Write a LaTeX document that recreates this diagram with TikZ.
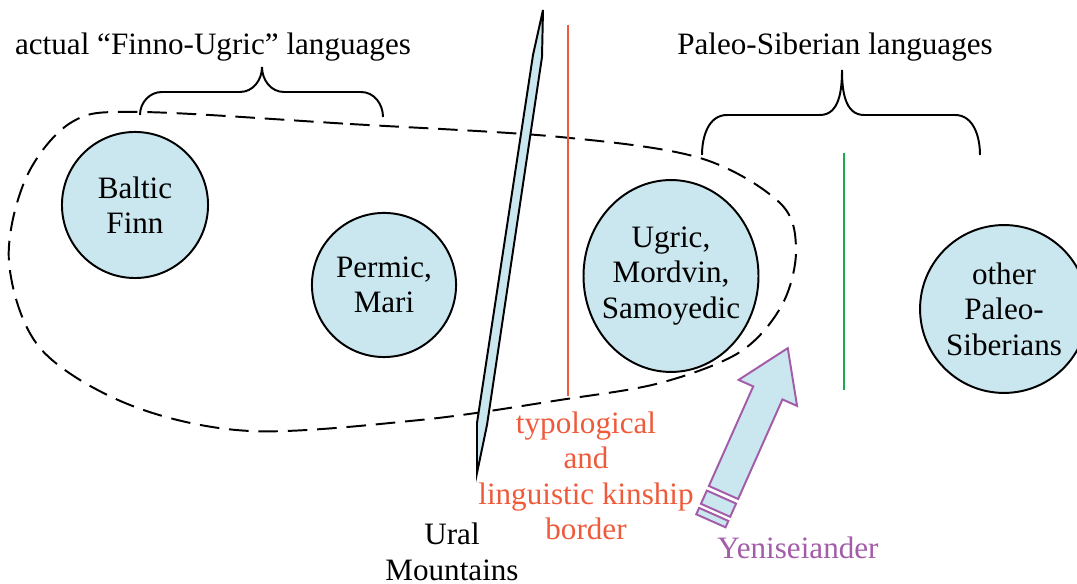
\documentclass[tikz,border=0pt]{standalone}
\usepackage{fontspec}
\setmainfont{Liberation Serif}
\usetikzlibrary{shapes.geometric}
\definecolor{cella}{HTML}{CAE6EE}
\definecolor{rosso}{HTML}{EE5A3A}
\definecolor{viola}{HTML}{A35CA8}
\definecolor{verde}{HTML}{1DAA4E}
\begin{document}
\begin{tikzpicture}[x=0.408pt,y=-0.408pt,
    lingua/.style={circle,draw,thick,fill=cella,align=center,inner sep=0pt,font=\fontsize{12.7}{14.5}\selectfont},
    testo/.style={align=center,font=\fontsize{12.7}{14.5}\selectfont}]

    \useasboundingbox (0,0) rectangle (1077,584);

    % Contorno tratteggiato
    \draw[thick,dash pattern=on 8pt off 4pt]
    plot[smooth cycle,tension=0.55] coordinates {(140,112) (350,124) (560,137) (700,158) (780,203) (796,250) (782,305) (740,352) (660,383) (560,400) (420,420) (250,431) (130,405) (40,348) (9,262) (26,178) (72,122)};

    % Lingue
    \node[lingua,minimum size=59.6pt] (baltic) at (135,205) {Baltic\\Finn};
    \node[lingua,minimum size=58.8pt] (permic) at (384,285) {Permic,\\Mari};
    \node[lingua,ellipse,inner sep=-4pt,minimum width=71.4pt,minimum height=78.3pt] (ugric) at (671,276) {Ugric,\\Mordvin,\\Samoyedic};
    \node[lingua,minimum size=68.5pt] (paleo) at (1004,309) {other\\Paleo-\\Siberians};

    % Urali
    \draw[thick,fill=cella] (543,10) -- (542,57) -- (487,425) -- (477,473) -- (477,423) -- (533,55) -- cycle;
    \node[testo] (ural) at (452,552) {Ural\\Mountains};

    % Confini
    \draw[rosso,line width=1.2pt] (568,25) -- (568,396);
    \draw[verde,thick] (844,153) -- (844,390);
    \node[testo,rosso] (kinship) at (586,476) {typological\\and\\linguistic kinship\\border};

    % Graffe
    \draw[thick] (140,115) to[out=90,in=180] (162,92) -- (240,92)
    to[out=0,in=-90] (262,67) to[out=-90,in=180] (284,92) -- (361,92)
    to[out=0,in=90] (383,117);
    \node[testo] (finnougric) at (213,47) {actual ``Finno-Ugric'' languages};
    \draw[thick] (702,155) to[out=90,in=180] (727,115) -- (820,115)
    to[out=0,in=-90] (842,70) to[out=-90,in=180] (864,115) -- (955,115)
    to[out=0,in=90] (980,155);
    \node[testo] (paleosib) at (835,47) {Paleo-Siberian languages};

    % Freccia
    \begin{scope}[shift={(723.5,492.5)},rotate=-24,x=0.408pt,y=0.408pt]
    \draw[viola,thick,fill=cella] (-16,0) -- (-16,109) -- (-32,109) -- (0,158)
    -- (32,109) -- (16,109) -- (16,0) -- cycle;
    \draw[viola,thick,fill=cella] (-16,-5) rectangle (16,-19.5);
    \draw[viola,thick,fill=cella] (-16,-24) rectangle (16,-31);
    \end{scope}
    \node[testo,viola] (yenisei) at (798,548) {Yeniseiander};

\end{tikzpicture}
\end{document}
